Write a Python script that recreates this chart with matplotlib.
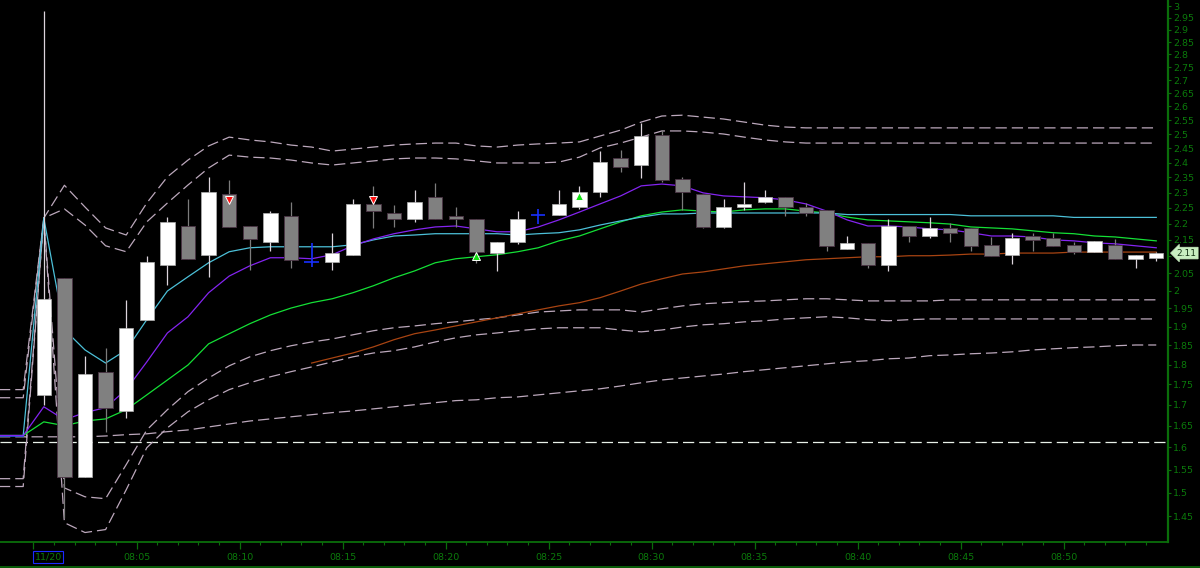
import numpy as np
import matplotlib
matplotlib.use('Agg')
import matplotlib.pyplot as plt
import matplotlib.transforms as mtransforms
from matplotlib.ticker import FixedLocator, FuncFormatter, NullLocator
from matplotlib.lines import Line2D

plt.rcParams['font.family'] = ['DejaVu Sans']

# one-minute candles, 08:00 .. 08:54
opens = [1.724, 2.037, 1.534, 1.780, 1.686, 1.919, 2.073, 2.193, 2.104, 2.296,
         2.193, 2.144, 2.225, 2.084, 2.084, 2.104, 2.262, 2.234, 2.215, 2.285,
         2.225, 2.215, 2.110, 2.144, 2.228, 2.228, 2.253, 2.301, 2.416, 2.392,
         2.497, 2.345, 2.296, 2.190, 2.253, 2.270, 2.285, 2.253, 2.244, 2.123,
         2.141, 2.073, 2.193, 2.162, 2.187, 2.187, 2.135, 2.104, 2.162, 2.156,
         2.135, 2.113, 2.135, 2.093, 2.095]
highs = [2.980, 2.037, 1.823, 1.844, 1.974, 2.100, 2.222, 2.279, 2.350, 2.340,
         2.193, 2.240, 2.270, 2.142, 2.170, 2.280, 2.320, 2.258, 2.310, 2.330,
         2.253, 2.215, 2.144, 2.240, 2.246, 2.310, 2.320, 2.440, 2.443, 2.540,
         2.514, 2.350, 2.296, 2.280, 2.336, 2.310, 2.285, 2.267, 2.244, 2.162,
         2.141, 2.215, 2.193, 2.222, 2.203, 2.187, 2.159, 2.171, 2.171, 2.171,
         2.144, 2.147, 2.153, 2.104, 2.113]
lows = [1.699, 1.447, 1.534, 1.636, 1.667, 1.919, 2.017, 2.093, 2.040, 2.190,
        2.060, 2.117, 2.065, 2.069, 2.060, 2.104, 2.187, 2.190, 2.206, 2.215,
        2.190, 2.080, 2.056, 2.138, 2.198, 2.228, 2.247, 2.285, 2.368, 2.348,
        2.335, 2.244, 2.187, 2.187, 2.244, 2.265, 2.225, 2.225, 2.117, 2.123,
        2.065, 2.056, 2.144, 2.156, 2.144, 2.117, 2.102, 2.078, 2.117, 2.132,
        2.107, 2.113, 2.093, 2.065, 2.085]
closes = [1.977, 1.534, 1.777, 1.693, 1.897, 2.084, 2.206, 2.093, 2.301, 2.190,
          2.153, 2.234, 2.090, 2.084, 2.110, 2.262, 2.240, 2.215, 2.270, 2.215,
          2.215, 2.113, 2.144, 2.215, 2.228, 2.262, 2.301, 2.402, 2.384, 2.493,
          2.342, 2.301, 2.190, 2.253, 2.262, 2.285, 2.253, 2.234, 2.132, 2.141,
          2.073, 2.193, 2.162, 2.187, 2.171, 2.132, 2.102, 2.156, 2.150, 2.132,
          2.113, 2.147, 2.093, 2.104, 2.110]

time_labels = ['11/20', '08:05', '08:10', '08:15', '08:20', '08:25',
               '08:30', '08:35', '08:40', '08:45', '08:50']

# indicators: three bars of the previous session, then 08:00 .. 08:54
ma_fast = [1.627, 1.627, 1.627,
           2.218, 1.892, 1.838, 1.804, 1.838, 1.919, 1.999, 2.040, 2.081, 2.114,
           2.126, 2.129, 2.129, 2.129, 2.129, 2.135, 2.150, 2.162, 2.165, 2.169,
           2.169, 2.169, 2.169, 2.165, 2.169, 2.172, 2.181, 2.196, 2.209, 2.221,
           2.231, 2.231, 2.234, 2.234, 2.234, 2.234, 2.234, 2.234, 2.234, 2.229,
           2.229, 2.229, 2.229, 2.229, 2.229, 2.225, 2.225, 2.225, 2.225, 2.225,
           2.220, 2.220, 2.220, 2.220, 2.220]
ma_purple = [1.627, 1.627, 1.627,
             1.695, 1.664, 1.681, 1.693, 1.737, 1.807, 1.883, 1.927, 1.994, 2.042,
             2.072, 2.096, 2.096, 2.093, 2.105, 2.132, 2.153, 2.169, 2.181, 2.190,
             2.193, 2.184, 2.175, 2.175, 2.190, 2.212, 2.237, 2.263, 2.289, 2.322,
             2.328, 2.322, 2.299, 2.289, 2.286, 2.283, 2.276, 2.263, 2.240, 2.212,
             2.193, 2.193, 2.190, 2.184, 2.181, 2.172, 2.162, 2.162, 2.159, 2.150,
             2.147, 2.141, 2.138, 2.132, 2.126]
ma_green = [1.627, 1.627, 1.627,
            1.659, 1.650, 1.661, 1.666, 1.688, 1.724, 1.761, 1.799, 1.854, 1.881,
            1.908, 1.932, 1.951, 1.966, 1.977, 1.994, 2.014, 2.037, 2.057, 2.081,
            2.093, 2.099, 2.105, 2.114, 2.126, 2.147, 2.162, 2.184, 2.206, 2.225,
            2.237, 2.244, 2.240, 2.237, 2.244, 2.247, 2.247, 2.240, 2.234, 2.221,
            2.212, 2.209, 2.206, 2.203, 2.199, 2.190, 2.187, 2.184, 2.178, 2.172,
            2.169, 2.162, 2.159, 2.153, 2.147]
nan = float('nan')
ma_slow = [nan, nan, nan,
           nan, nan, nan, nan, nan, nan, nan, nan, nan, nan,
           nan, nan, nan, 1.804, 1.817, 1.830, 1.846, 1.865, 1.881, 1.891,
           1.902, 1.913, 1.924, 1.935, 1.946, 1.957, 1.966, 1.980, 1.999, 2.019,
           2.034, 2.048, 2.054, 2.063, 2.072, 2.078, 2.084, 2.090, 2.093, 2.096,
           2.099, 2.099, 2.102, 2.102, 2.104, 2.107, 2.107, 2.110, 2.110, 2.110,
           2.113, 2.113, 2.113, 2.113, 2.113]
band_up_outer = [1.737, 1.737, 1.737,
                 2.218, 2.324, 2.253, 2.187, 2.165, 2.266, 2.352, 2.409, 2.458, 2.489,
                 2.479, 2.472, 2.461, 2.454, 2.440, 2.447, 2.454, 2.461, 2.465, 2.468,
                 2.468, 2.458, 2.454, 2.461, 2.465, 2.468, 2.472, 2.493, 2.514, 2.543,
                 2.565, 2.568, 2.561, 2.554, 2.543, 2.532, 2.525, 2.522, 2.522, 2.522,
                 2.522, 2.522, 2.522, 2.522, 2.522, 2.522, 2.522, 2.522, 2.522, 2.522,
                 2.522, 2.522, 2.522, 2.522, 2.522]
band_up_inner = [1.717, 1.717, 1.717,
                 2.218, 2.247, 2.196, 2.132, 2.114, 2.206, 2.266, 2.325, 2.382, 2.426,
                 2.419, 2.416, 2.409, 2.399, 2.392, 2.399, 2.406, 2.413, 2.416, 2.416,
                 2.413, 2.406, 2.399, 2.399, 2.399, 2.402, 2.419, 2.451, 2.468, 2.489,
                 2.511, 2.511, 2.507, 2.500, 2.489, 2.479, 2.472, 2.468, 2.468, 2.468,
                 2.468, 2.468, 2.468, 2.468, 2.468, 2.468, 2.468, 2.468, 2.468, 2.468,
                 2.468, 2.468, 2.468, 2.468, 2.468]
band_lo_inner = [1.530, 1.530, 1.530,
                 2.218, 1.510, 1.491, 1.487, 1.561, 1.640, 1.688, 1.732, 1.766, 1.797,
                 1.820, 1.836, 1.849, 1.859, 1.867, 1.878, 1.889, 1.897, 1.902, 1.908,
                 1.913, 1.919, 1.924, 1.932, 1.940, 1.943, 1.946, 1.946, 1.946, 1.940,
                 1.949, 1.957, 1.963, 1.966, 1.969, 1.971, 1.974, 1.977, 1.977, 1.974,
                 1.971, 1.971, 1.971, 1.971, 1.974, 1.974, 1.974, 1.974, 1.974, 1.974,
                 1.974, 1.974, 1.974, 1.974, 1.974]
band_lo_outer = [1.513, 1.513, 1.513,
                 2.218, 1.437, 1.417, 1.423, 1.506, 1.599, 1.645, 1.683, 1.712, 1.737,
                 1.754, 1.769, 1.782, 1.794, 1.807, 1.820, 1.830, 1.836, 1.846, 1.859,
                 1.870, 1.878, 1.883, 1.889, 1.894, 1.897, 1.897, 1.897, 1.891, 1.886,
                 1.891, 1.899, 1.905, 1.908, 1.913, 1.916, 1.921, 1.924, 1.927, 1.924,
                 1.919, 1.916, 1.919, 1.921, 1.921, 1.921, 1.921, 1.921, 1.921, 1.921,
                 1.921, 1.921, 1.921, 1.921, 1.921]
band_long = [1.624, 1.624, 1.624,
             1.624, 1.624, 1.624, 1.626, 1.629, 1.631, 1.636, 1.640, 1.647, 1.654,
             1.661, 1.666, 1.671, 1.676, 1.681, 1.685, 1.690, 1.695, 1.700, 1.705,
             1.710, 1.712, 1.717, 1.719, 1.724, 1.729, 1.734, 1.739, 1.746, 1.754,
             1.761, 1.766, 1.771, 1.776, 1.782, 1.787, 1.792, 1.797, 1.802, 1.807,
             1.810, 1.815, 1.817, 1.823, 1.825, 1.828, 1.830, 1.833, 1.838, 1.841,
             1.844, 1.846, 1.849, 1.851, 1.851]
prev_blue = [1.625, 1.625, 1.625]
support_level = 1.613

sell_bars = [9, 16]
sell_prices = [2.276, 2.276]
buy_bars = [21, 26]
buy_prices = [2.102, 2.289]

last_price = 2.11

green = '#0a6e0a'
label_green = '#0b7a0b'
band_col = '#bca8bc'

bar_x = np.arange(len(opens))
ind_x = np.arange(-3, len(opens))

fig = plt.figure(figsize=(12, 5.68), dpi=100, facecolor='black')
ax = fig.add_axes([0, 26 / 568, 1168 / 1200, 542 / 568], facecolor='black')
ax.set_yscale('log')

# envelope / band lines
ax.axhline(support_level, color='#e8f0e8', lw=0.9, ls=(0, (9, 4)), zorder=1)
for band in [band_up_outer, band_up_inner, band_lo_inner, band_lo_outer, band_long]:
    ax.plot(ind_x, band, color=band_col, lw=0.9, ls=(0, (9, 4)), zorder=1)

# moving averages
ax.plot(ind_x[:3], prev_blue, color='#1020ff', lw=1.2, zorder=1)
ax.plot(ind_x, ma_slow, color='#a84412', lw=0.9, zorder=1)
ax.plot(ind_x, ma_green, color='#14e036', lw=0.9, zorder=1)
ax.plot(ind_x, ma_fast, color='#4cc0d8', lw=0.9, zorder=1)
ax.plot(ind_x, ma_purple, color='#8424f0', lw=0.9, zorder=1)

# candles
o = np.array(opens)
c = np.array(closes)
up = c > o
down = c < o
doji = c == o
ax.vlines(bar_x[up], np.array(lows)[up], np.array(highs)[up], color='#dcd4dc', lw=0.9, zorder=2)
ax.vlines(bar_x[down], np.array(lows)[down], np.array(highs)[down], color='#7c7c7c', lw=0.9, zorder=2)
ax.bar(bar_x[up], (c - o)[up], bottom=o[up], width=0.7, color='white',
       edgecolor='#b0b0b0', lw=0.5, zorder=3)
ax.bar(bar_x[down], (o - c)[down], bottom=c[down], width=0.7, color='#808080',
       edgecolor='#4a3444', lw=0.6, zorder=3)
ax.vlines(bar_x[doji], np.array(lows)[doji], np.array(highs)[doji], color='#1830ff', lw=1.2, zorder=3)
ax.hlines(c[doji], bar_x[doji] - 0.35, bar_x[doji] + 0.35, color='#1830ff', lw=1.2, zorder=3)

# signals
ax.plot(sell_bars, sell_prices, ls='none', marker='v', ms=6, mfc='#ff1010',
        mec='white', mew=0.7, zorder=5)
ax.plot(buy_bars, buy_prices, ls='none', marker='^', ms=6, mfc='#10e010',
        mec='white', mew=0.7, zorder=5)

ax.set_xlim(-2.126, 54.57)
ax.set_ylim(1.398, 3.026)


def price_fmt(v, pos):
    # the last-price tag sits on top of the 2.1 level
    if abs(v - 2.1) < 1e-6:
        return ''
    return ('%.2f' % v).rstrip('0').rstrip('.')


# price axis on the right
ax.yaxis.tick_right()
ax.yaxis.set_major_locator(FixedLocator(np.round(np.arange(1.45, 3.001, 0.05), 2)))
ax.yaxis.set_minor_locator(NullLocator())
ax.yaxis.set_major_formatter(FuncFormatter(price_fmt))
ax.tick_params(axis='y', which='major', colors=green, labelcolor=label_green,
               length=2.5, width=0.8, pad=1, labelsize=6.8)

# time axis
ax.xaxis.set_major_locator(FixedLocator(bar_x[::5] - 0.5))
ax.xaxis.set_minor_locator(FixedLocator(bar_x - 0.5))
ax.set_xticklabels([''] + time_labels[1:])
ax.tick_params(axis='x', which='major', colors=green, labelcolor=label_green,
               length=5, width=0.9, pad=3, labelsize=6.8)
ax.tick_params(axis='x', which='minor', colors=green, length=2, width=0.8)

date_tr = mtransforms.blended_transform_factory(ax.transData, ax.transAxes)
ax.text(-0.45, -0.028, time_labels[0], transform=date_tr, ha='left', va='center',
        fontsize=6.8, color=label_green, clip_on=False,
        bbox=dict(boxstyle='square,pad=0.15', fc='none', ec='#1a2aff', lw=0.8))

for side in ['left', 'top']:
    ax.spines[side].set_visible(False)
ax.spines['right'].set_color(green)
ax.spines['right'].set_linewidth(1.6)
ax.spines['bottom'].set_color(green)
ax.spines['bottom'].set_linewidth(1.3)

# last price tag
price_tr = mtransforms.blended_transform_factory(ax.transAxes, ax.transData)
ax.text(1.0075, last_price, '%.2f' % last_price, transform=price_tr, ha='left', va='center',
        fontsize=6.5, color='#143214', clip_on=False, zorder=10,
        bbox=dict(boxstyle='larrow,pad=0.15', fc='#c8eec0', ec='#c8eec0', lw=0.5))

fig.add_artist(Line2D([0, 1], [1.5 / 568, 1.5 / 568], color=green, lw=1.2,
                      transform=fig.transFigure))

fig.savefig('out.png', dpi=100, facecolor='black')
